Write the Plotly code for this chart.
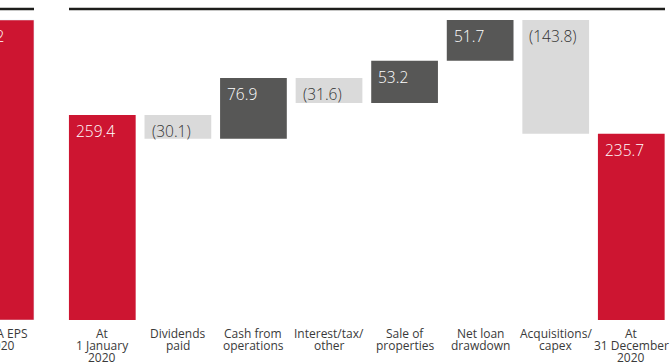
import plotly.graph_objects as go

# Cash movement 2020 (£m)
categories = ["At<br>1 January<br>2020", "Dividends<br>paid", "Cash from<br>operations",
              "Interest/tax/<br>other", "Sale of<br>properties", "Net loan<br>drawdown",
              "Acquisitions/<br>capex", "At<br>31 December<br>2020"]
values = [259.4, -30.1, 76.9, -31.6, 53.2, 51.7, -143.8, 235.7]
measures = ["absolute", "relative", "relative", "relative", "relative", "relative", "relative", "total"]

# Neighbouring panel
eps_category = ["EPRA EPS<br>2020"]
eps_value = [26.2]

RED = "#CD1531"
DARK = "#575756"
LIGHT = "#DADADA"
RULE = "#1d1d1b"
FONT = "'Open Sans', Roboto, sans-serif"

W, H = 670, 363
PLOT_BOTTOM = 320          # pixel row of the baseline
STEP = 75.57               # pixel width of one category slot
GAP = 0.117
LINE_H = 12.3              # tight leading of the category captions

fig = go.Figure()

fig.add_trace(go.Waterfall(
    x=categories, y=values, measure=measures,
    increasing=dict(marker=dict(color=DARK)),
    decreasing=dict(marker=dict(color=LIGHT)),
    totals=dict(marker=dict(color=RED)),
    connector=dict(visible=False),
    hoverinfo="skip", showlegend=False,
    xaxis="x", yaxis="y",
))

fig.add_trace(go.Bar(
    x=eps_category, y=eps_value, marker_color=RED,
    hoverinfo="skip", showlegend=False,
    xaxis="x2", yaxis="y2",
))

# value labels, top-left inside each bar
half_bar = STEP * (1 - GAP) / 2
label_font = dict(family=FONT, size=15.5, weight=300)
running = 0.0
for cat, val, m in zip(categories, values, measures):
    if m == "absolute":
        start, end = 0.0, val
        running = val
        colour = RED
    elif m == "total":
        start, end = 0.0, running
        colour = RED
    else:
        start, end = running, running + val
        running = end
        colour = DARK if val > 0 else LIGHT
    top = max(start, end)
    txt = f"{val:.1f}" if val >= 0 else f"({abs(val):.1f})"
    fig.add_annotation(
        x=cat, y=top, xref="x", yref="y", text=txt, showarrow=False,
        xanchor="left", yanchor="top", xshift=-half_bar + 5, yshift=-3,
        font=dict(label_font, color="#ffffff" if colour != LIGHT else "#333333"),
    )

fig.add_annotation(
    x=eps_category[0], y=eps_value[0], xref="x2", yref="y2", text=f"{eps_value[0]:.1f}",
    showarrow=False, xanchor="left", yanchor="top", xshift=-half_bar + 5, yshift=-3,
    font=dict(label_font, color="#ffffff"),
)

# category captions, one line at a time so the leading stays tight
caption_font = dict(family=FONT, size=12, color="#3a3a3a")


def add_caption(cat, xref):
    for i, line in enumerate(cat.split("<br>")):
        fig.add_annotation(
            x=cat, y=0, xref=xref, yref="paper", text=line, showarrow=False,
            xanchor="center", yanchor="top", yshift=-2.5 - i * LINE_H,
            font=caption_font,
        )


for cat in categories:
    add_caption(cat, "x")
add_caption(eps_category[0], "x2")

# main axis geometry
x0_px = 102.3 - STEP / 2
x1_px = x0_px + STEP * len(categories)
y_max = 379.5 / 300 * PLOT_BOTTOM

eps_center_px = 0.6
x2_lo = -eps_center_px / STEP
x2_hi = x2_lo + 40 / STEP

fig.update_layout(
    width=W, height=H,
    margin=dict(l=0, r=0, t=0, b=H - PLOT_BOTTOM),
    paper_bgcolor="white", plot_bgcolor="white",
    waterfallgap=GAP, bargap=GAP,
    xaxis=dict(domain=[x0_px / W, min(x1_px / W, 1)], type="category",
               range=[-0.5, len(categories) - 0.5], automargin=False,
               showgrid=False, zeroline=False, showline=False, ticks="",
               showticklabels=False),
    yaxis=dict(domain=[0, 1], range=[0, y_max], visible=False, automargin=False),
    xaxis2=dict(domain=[0, 40 / W], type="category", range=[x2_lo, x2_hi],
                automargin=False, showgrid=False, zeroline=False, showline=False,
                ticks="", showticklabels=False, anchor="y2"),
    yaxis2=dict(domain=[0, 1], range=[0, eps_value[0] * PLOT_BOTTOM / 300], visible=False,
                anchor="x2", automargin=False),
    font=dict(family=FONT),
)

# heading rules above each panel
rule_y = 1 - 9 / PLOT_BOTTOM
fig.add_shape(type="line", xref="paper", yref="paper",
              x0=69 / W, x1=665 / W, y0=rule_y, y1=rule_y,
              line=dict(color=RULE, width=2.5))
fig.add_shape(type="line", xref="paper", yref="paper",
              x0=0, x1=34 / W, y0=rule_y, y1=rule_y,
              line=dict(color=RULE, width=2.5))

fig.write_html("out.html")
